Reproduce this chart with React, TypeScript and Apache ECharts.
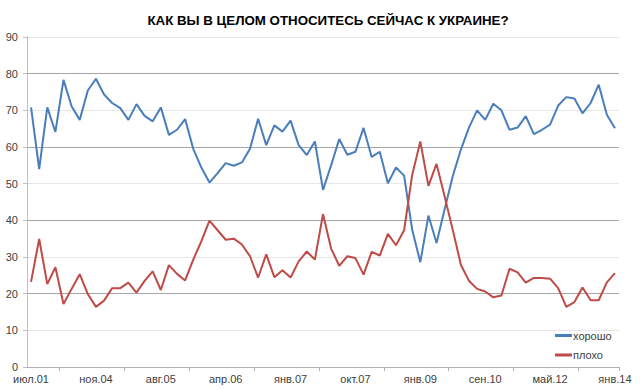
import React, { useEffect, useRef } from "react";
import * as echarts from "echarts";

const titleText = "КАК ВЫ В ЦЕЛОМ ОТНОСИТЕСЬ СЕЙЧАС К УКРАИНЕ?";
const xTickLabels = ["июл.01", "ноя.04", "авг.05", "апр.06", "янв.07", "окт.07", "янв.09", "сен.10", "май.12", "янв.14"];
const seriesNames = ["хорошо", "плохо"];

const good = [
  70.8, 54.0, 70.8, 64.1, 78.3, 71.1, 67.4, 75.4, 78.6, 74.3,
  72.0, 70.6, 67.4, 71.7, 68.5, 67.0, 70.8, 63.3, 64.7, 67.6,
  59.5, 54.4, 50.3, 52.9, 55.6, 54.9, 55.8, 59.5, 67.7, 60.5,
  65.9, 64.2, 67.2, 60.5, 57.8, 61.5, 48.3, 55.0, 62.2, 57.9,
  58.7, 65.2, 57.3, 58.7, 50.1, 54.4, 52.2, 37.4, 28.6, 41.3,
  33.8, 43.0, 52.0, 59.3, 65.3, 70.0, 67.4, 71.8, 70.0, 64.7,
  65.3, 68.4, 63.5, 64.7, 66.1, 71.3, 73.6, 73.2, 69.2, 72.0,
  77.0, 68.8, 65.1,
];

const bad = [
  23.2, 34.9, 22.6, 27.2, 17.2, 21.3, 25.3, 19.9, 16.4, 18.1,
  21.5, 21.5, 23.0, 20.3, 23.5, 26.1, 21.0, 27.8, 25.4, 23.6,
  29.3, 34.3, 39.9, 37.3, 34.7, 35.0, 33.4, 30.2, 24.4, 30.7,
  24.5, 26.4, 24.4, 28.8, 31.5, 29.3, 41.7, 32.3, 27.6, 30.2,
  29.7, 25.2, 31.4, 30.4, 36.3, 33.2, 37.3, 52.4, 61.5, 49.4,
  55.4, 46.5, 37.4, 27.9, 23.5, 21.3, 20.6, 19.0, 19.5, 26.8,
  25.8, 23.0, 24.3, 24.3, 24.1, 21.5, 16.4, 17.7, 21.7, 18.2,
  18.2, 23.1, 25.6,
];

const LABEL_STEP = 8;
const categories = good.map((_, i) => String(i));

export default function App() {
  const ref = useRef<HTMLDivElement>(null);

  useEffect(() => {
    if (!ref.current) return;
    const chart = echarts.init(ref.current, undefined, { renderer: "svg" });
    const labelFont = "'Liberation Sans', Arial, sans-serif";
    chart.setOption({
      animation: false,
      backgroundColor: "#ffffff",
      title: {
        text: titleText,
        left: 323,
        top: 9,
        textAlign: "center",
        textStyle: {
          fontFamily: "'Liberation Sans Narrow', 'Arial Narrow', sans-serif",
          fontWeight: "bold",
          fontSize: 13.3,
          color: "#000000",
        },
      },
      legend: {
        orient: "vertical",
        left: 550,
        top: 325,
        itemWidth: 17,
        itemHeight: 3,
        itemGap: 8.5,
        icon: "rect",
        data: seriesNames,
        textStyle: {
          fontFamily: labelFont,
          fontSize: 11,
          color: "#404040",
          padding: [0, 0, 0, -4],
        },
      },
      grid: { left: 27, right: 21, top: 37, bottom: 24, containLabel: false },
      xAxis: {
        type: "category",
        data: categories,
        boundaryGap: true,
        axisLine: { show: true, lineStyle: { color: "#b0b0b0", width: 1 } },
        axisTick: {
          show: true,
          interval: (i: number) => i % LABEL_STEP === LABEL_STEP / 2,
          length: 4,
          lineStyle: { color: "#b0b0b0" },
        },
        axisLabel: {
          interval: (i: number) => i % LABEL_STEP === 0,
          formatter: (_v: string, i: number) => xTickLabels[i / LABEL_STEP] ?? "",
          fontFamily: labelFont,
          fontSize: 11,
          color: "#404040",
          margin: 6,
        },
        splitLine: { show: false },
      },
      yAxis: {
        type: "value",
        min: 0,
        max: 90,
        interval: 10,
        axisLine: { show: true, lineStyle: { color: "#c0c0c0", width: 1 } },
        axisTick: { show: true, length: 4, lineStyle: { color: "#c0c0c0" } },
        axisLabel: {
          fontFamily: labelFont,
          fontSize: 11,
          color: "#404040",
          margin: 9,
        },
        splitLine: {
          show: true,
          lineStyle: { color: ["#a6a6a6", "#e6e6e6"], width: 1 },
        },
      },
      series: [
        {
          name: seriesNames[0],
          type: "line",
          data: good,
          showSymbol: false,
          symbol: "none",
          lineStyle: { color: "#4a7ebb", width: 2 },
          itemStyle: { color: "#4a7ebb" },
        },
        {
          name: seriesNames[1],
          type: "line",
          data: bad,
          showSymbol: false,
          symbol: "none",
          lineStyle: { color: "#be4b48", width: 2 },
          itemStyle: { color: "#be4b48" },
        },
      ],
    });
    return () => chart.dispose();
  }, []);

  return <div ref={ref} style={{ width: 640, height: 391, position: "absolute", left: 0, top: 0 }} />;
}
